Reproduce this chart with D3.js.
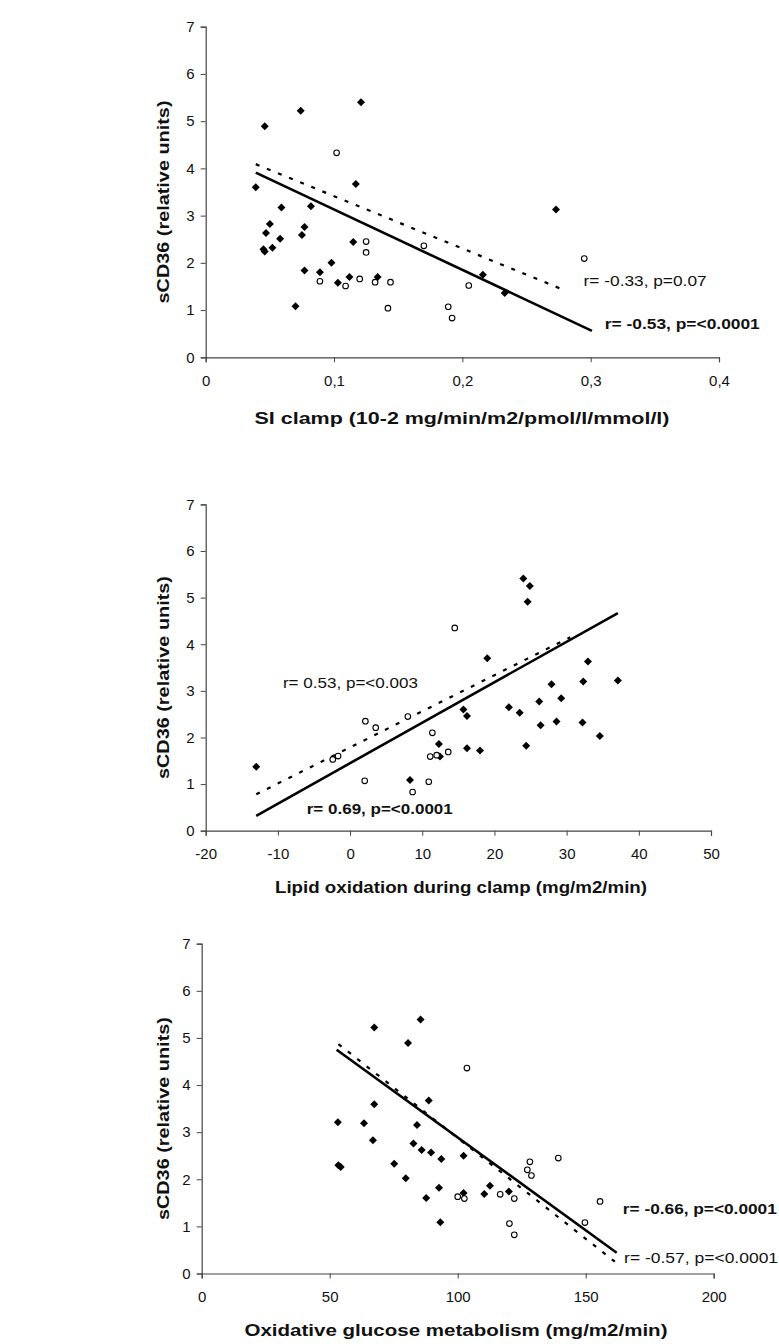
<!DOCTYPE html>
<html>
<head>
<meta charset="utf-8">
<script src="https://cdn.jsdelivr.net/npm/d3@7"></script>
<style>
body { margin: 0; background: #fff; }
svg { display: block; }
text { font-family: Arial, "Liberation Sans", sans-serif; fill: #111; }
</style>
</head>
<body>
<script>
// ---- data ----
const yTicks = [0, 1, 2, 3, 4, 5, 6, 7];
const yTitle = "sCD36 (relative units)";

// panel 1: SI clamp
const siTicks = [0, 0.1, 0.2, 0.3, 0.4];
const siTickLabels = ["0", "0,1", "0,2", "0,3", "0,4"];
const siFilled = [
    [0.039, 3.60], [0.046, 4.89], [0.074, 5.22], [0.121, 5.40], [0.059, 3.17], [0.082, 3.20],
    [0.117, 3.67], [0.273, 3.13], [0.045, 2.29], [0.046, 2.24], [0.047, 2.63], [0.050, 2.82],
    [0.052, 2.32], [0.058, 2.51], [0.075, 2.59], [0.077, 2.76], [0.077, 1.84], [0.070, 1.08],
    [0.089, 1.80], [0.098, 2.00], [0.103, 1.58], [0.112, 1.70], [0.115, 2.44], [0.134, 1.70],
    [0.216, 1.75], [0.233, 1.36]
];
const siOpen = [
    [0.102, 4.33], [0.089, 1.61], [0.109, 1.51], [0.120, 1.66], [0.125, 2.45], [0.125, 2.22],
    [0.132, 1.59], [0.144, 1.59], [0.142, 1.04], [0.170, 2.36], [0.189, 1.07], [0.192, 0.83],
    [0.205, 1.52], [0.295, 2.09]
];
const siSolid = [[0.039, 3.91], [0.301, 0.56]];
const siDashed = [[0.039, 4.09], [0.276, 1.46]];
const siNotes = ["r= -0.33, p=0.07", "r= -0.53, p=<0.0001"];

// panel 2: lipid oxidation
const loTicks = [-20, -10, 0, 10, 20, 30, 40, 50];
const loTickLabels = ["-20", "-10", "0", "10", "20", "30", "40", "50"];
const loFilled = [
    [-13.0, 1.37], [8.3, 1.09], [12.3, 1.86], [12.45, 1.59], [15.7, 2.60], [16.2, 2.46],
    [16.2, 1.77], [18.0, 1.72], [19.0, 3.70], [22.0, 2.65], [23.5, 2.53], [24.0, 5.41],
    [24.4, 1.82], [24.6, 4.91], [24.9, 5.25], [26.2, 2.77], [26.4, 2.26], [27.9, 3.14],
    [28.6, 2.34], [29.25, 2.84], [32.2, 2.32], [32.3, 3.20], [32.95, 3.63], [34.6, 2.03],
    [37.1, 3.22]
];
const loOpen = [
    [-2.4, 1.53], [-1.66, 1.60], [2.03, 1.07], [2.12, 2.35], [3.55, 2.21], [8.0, 2.45],
    [8.66, 0.83], [10.9, 1.05], [11.1, 1.59], [11.4, 2.10], [12.0, 1.62], [13.6, 1.69],
    [14.5, 4.35]
];
const loSolid = [[-13, 0.32], [37.1, 4.67]];
const loDashed = [[-13, 0.78], [30.5, 4.15]];
const loNotes = ["r= 0.53, p=<0.003", "r= 0.69, p=<0.0001"];

// panel 3: oxidative glucose metabolism
const ogTicks = [0, 50, 100, 150, 200];
const ogTickLabels = ["0", "50", "100", "150", "200"];
const ogFilled = [
    [53.2, 3.21], [53.4, 2.30], [54.3, 2.26], [63.4, 3.19], [67.4, 3.59], [66.9, 2.83],
    [75.2, 2.33], [79.7, 2.02], [82.7, 2.76], [84.1, 3.15], [85.9, 2.62], [88.7, 3.67],
    [89.6, 2.57], [93.6, 2.43], [87.7, 1.60], [92.7, 1.82], [102.3, 2.50], [102.3, 1.71],
    [110.4, 1.69], [112.6, 1.86], [120.0, 1.74], [67.4, 5.22], [80.6, 4.89], [85.5, 5.39],
    [93.2, 1.09]
];
const ogOpen = [
    [103.6, 4.36], [100.0, 1.63], [102.6, 1.59], [116.6, 1.68], [122.1, 1.59], [120.2, 1.06],
    [122.1, 0.82], [128.2, 2.37], [127.2, 2.20], [128.8, 2.08], [139.3, 2.45], [149.7, 1.08],
    [155.6, 1.53]
];
const ogSolid = [[52.7, 4.75], [162.1, 0.44]];
const ogDashed = [[53.4, 4.87], [161.4, 0.25]];
const ogNotes = ["r= -0.57, p=<0.0001", "r= -0.66, p=<0.0001"];

// ---- layout ----
const panels = [
    {
        filled: siFilled, open: siOpen, solid: siSolid, dashed: siDashed,
        ticks: siTicks, tickLabels: siTickLabels, domain: [0, 0.4],
        left: 205.7, right: 719, top: 26.7, bottom: 357.3,
        title: "SI clamp (10-2 mg/min/m2/pmol/l/mmol/l)", titleX: 462, titleY: 420, titleW: 415,
        notes: [
            {text: siNotes[0], x: 0.2945, y: 1.59, bold: false, w: 123},
            {text: siNotes[1], x: 0.311, y: 0.68, bold: true, w: 155}
        ]
    },
    {
        filled: loFilled, open: loOpen, solid: loSolid, dashed: loDashed,
        ticks: loTicks, tickLabels: loTickLabels, domain: [-20, 50],
        left: 205.7, right: 711, top: 504.4, bottom: 830.7,
        title: "Lipid oxidation during clamp (mg/m2/min)", titleX: 461, titleY: 889, titleW: 372,
        notes: [
            {text: loNotes[0], x: -9.3, y: 3.14, bold: false, w: 135},
            {text: loNotes[1], x: -6.0, y: 0.44, bold: true, w: 146}
        ]
    },
    {
        filled: ogFilled, open: ogOpen, solid: ogSolid, dashed: ogDashed,
        ticks: ogTicks, tickLabels: ogTickLabels, domain: [0, 200],
        left: 201.7, right: 713.7, top: 943.7, bottom: 1273.5,
        title: "Oxidative glucose metabolism (mg/m2/min)", titleX: 456, titleY: 1332, titleW: 423,
        notes: [
            {text: ogNotes[0], x: 165, y: 0.30, bold: false, w: 154},
            {text: ogNotes[1], x: 164.5, y: 1.35, bold: true, w: 154}
        ]
    }
];

const svg = d3.select("body").append("svg")
    .attr("width", 779)
    .attr("height", 1344);

const diamond = d3.symbol().type(d3.symbolSquare).size(32);

panels.forEach((p) => {
    let x = d3.scaleLinear().domain(p.domain).range([p.left, p.right]);
    let y = d3.scaleLinear().domain([0, 7]).range([p.bottom, p.top]);
    let g = svg.append("g");

    // y axis
    let yAxis = g.append("g")
        .attr("transform", `translate(${p.left},0)`)
        .call(d3.axisLeft(y).tickValues(yTicks).tickSize(5).tickPadding(6).tickFormat(d3.format("d")));
    // x axis
    let xAxis = g.append("g")
        .attr("transform", `translate(0,${p.bottom})`)
        .call(d3.axisBottom(x).tickValues(p.ticks).tickSize(5).tickPadding(13)
            .tickFormat((d, i) => p.tickLabels[i]));
    [yAxis, xAxis].forEach((a) => {
        a.select(".domain").attr("stroke", "#444").attr("stroke-width", 1.2);
        a.selectAll(".tick line").attr("stroke", "#444");
        a.selectAll(".tick text")
            .attr("font-size", 15)
            .attr("font-family", "Arial, 'Liberation Sans', sans-serif")
            .attr("fill", "#111");
    });

    // y title
    g.append("text")
        .attr("transform", `translate(165,${(p.top + p.bottom) / 2 + 10}) rotate(-90)`)
        .attr("text-anchor", "middle")
        .attr("dominant-baseline", "middle")
        .attr("font-size", 17)
        .attr("font-weight", "bold")
        .attr("textLength", 203)
        .attr("lengthAdjust", "spacingAndGlyphs")
        .text(yTitle);

    // x title
    g.append("text")
        .attr("x", p.titleX - p.titleW / 2)
        .attr("y", p.titleY)
        .attr("dominant-baseline", "middle")
        .attr("font-size", 17)
        .attr("font-weight", "bold")
        .attr("textLength", p.titleW)
        .attr("lengthAdjust", "spacingAndGlyphs")
        .text(p.title);

    // regression lines
    let line = d3.line().x((d) => x(d[0])).y((d) => y(d[1]));
    g.append("path")
        .datum(p.dashed)
        .attr("d", line)
        .attr("fill", "none")
        .attr("stroke", "#000")
        .attr("stroke-width", 2.2)
        .attr("stroke-dasharray", "4,8");
    g.append("path")
        .datum(p.solid)
        .attr("d", line)
        .attr("fill", "none")
        .attr("stroke", "#000")
        .attr("stroke-width", 2.6);

    // points
    g.selectAll(".filled")
        .data(p.filled)
        .enter().append("path")
        .attr("class", "filled")
        .attr("d", diamond)
        .attr("fill", "#000")
        .attr("transform", (d) => `translate(${x(d[0])},${y(d[1])}) rotate(45)`);
    g.selectAll(".open")
        .data(p.open)
        .enter().append("circle")
        .attr("class", "open")
        .attr("cx", (d) => x(d[0]))
        .attr("cy", (d) => y(d[1]))
        .attr("r", 2.8)
        .attr("fill", "#fff")
        .attr("stroke", "#000")
        .attr("stroke-width", 1.1);

    // correlation notes
    g.selectAll(".note")
        .data(p.notes)
        .enter().append("text")
        .attr("class", "note")
        .attr("x", (d) => x(d.x))
        .attr("y", (d) => y(d.y))
        .attr("dominant-baseline", "middle")
        .attr("font-size", 14.5)
        .attr("font-weight", (d) => d.bold ? "bold" : "normal")
        .attr("textLength", (d) => d.w)
        .attr("lengthAdjust", "spacingAndGlyphs")
        .text((d) => d.text);
});
</script>
</body>
</html>
